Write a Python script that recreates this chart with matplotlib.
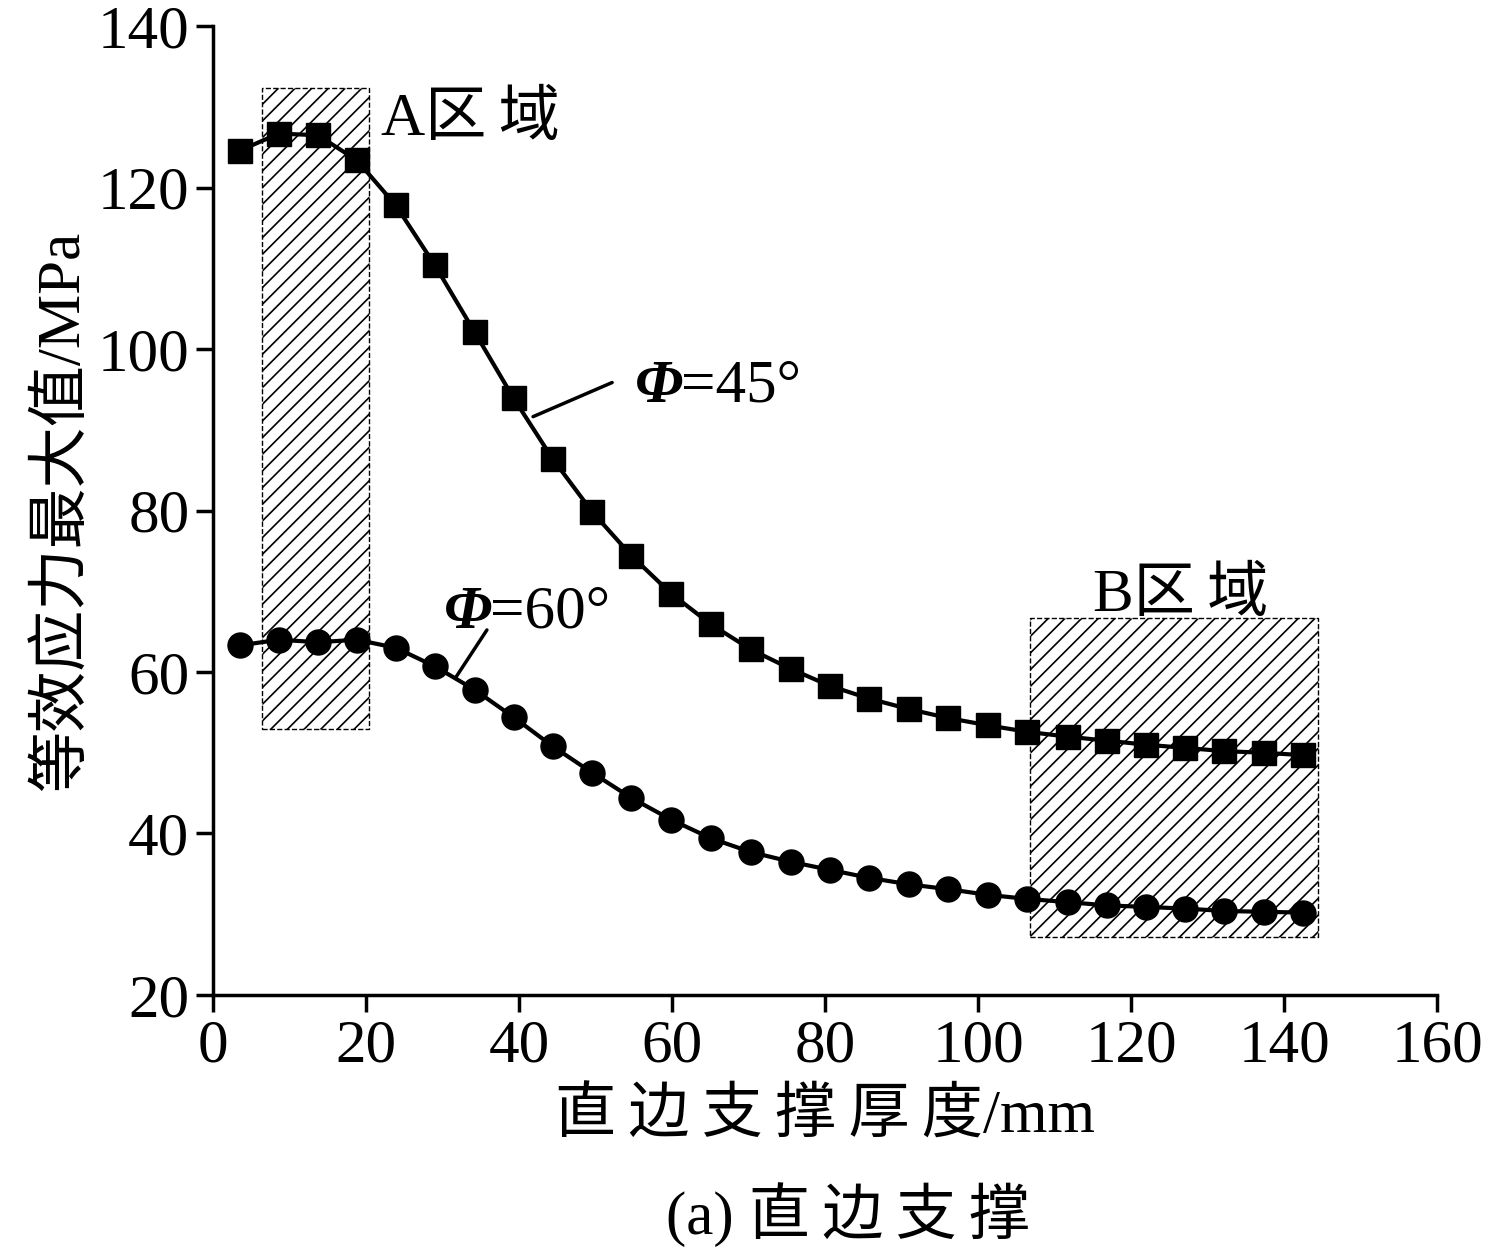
import matplotlib
matplotlib.use("Agg")
import matplotlib.pyplot as plt
from matplotlib.patches import Rectangle

x = [3.5, 8.6, 13.7, 18.8, 23.9, 29.0, 34.2, 39.3, 44.4, 49.6, 54.7, 59.9, 65.1, 70.3,
     75.5, 80.6, 85.8, 91.0, 96.1, 101.3, 106.4, 111.7, 116.8, 122.0, 127.1, 132.2, 137.4, 142.5]
phi45 = [124.6, 126.7, 126.5, 123.4, 117.8, 110.4, 102.1, 93.9, 86.4, 79.8, 74.4, 69.7, 65.9, 62.8,
         60.4, 58.3, 56.7, 55.4, 54.3, 53.4, 52.6, 52.0, 51.5, 51.0, 50.6, 50.2, 50.0, 49.7]
phi60 = [63.3, 64.0, 63.7, 64.0, 63.0, 60.7, 57.8, 54.4, 50.8, 47.5, 44.4, 41.7, 39.4, 37.7,
         36.5, 35.5, 34.5, 33.7, 33.1, 32.4, 31.9, 31.5, 31.1, 30.9, 30.7, 30.4, 30.3, 30.2]
xticks = [0, 20, 40, 60, 80, 100, 120, 140, 160]
yticks = [20, 40, 60, 80, 100, 120, 140]

plt.rcParams['font.family'] = ['Liberation Serif', 'Noto Sans CJK SC', 'Noto Sans CJK JP']
plt.rcParams['hatch.linewidth'] = 1.2

fig = plt.figure(figsize=(14.96, 12.49), dpi=100)
ax = fig.add_axes([0.1424, 0.2034, 0.8182, 0.7756])
ax.set_xlim(0, 160); ax.set_ylim(20, 140)

ax.add_patch(Rectangle((6.4, 52.9), 14.0, 79.4, fill=False, hatch='//', ls='--', lw=1, ec='black'))
ax.add_patch(Rectangle((106.8, 27.2), 37.6, 39.5, fill=False, hatch='//', ls='--', lw=1, ec='black'))

ax.plot(x, phi45, 'k-', lw=3, marker='s', ms=17, zorder=3)
ax.plot(x, phi60, 'k-', lw=3, marker='o', ms=18, zorder=3)

ax.set_xticks(xticks); ax.set_yticks(yticks)
for s in ['top', 'right']:
    ax.spines[s].set_visible(False)
for s in ['left', 'bottom']:
    ax.spines[s].set_linewidth(2.5)
ax.tick_params(direction='out', length=12, width=2.5, labelsize=44, pad=5)

ts = "\u2009"
ax.set_xlabel(ts.join("直边支撑厚度") + "/mm", fontsize=44, labelpad=10)
ax.set_ylabel("等效应力最大值/MPa", fontsize=44, labelpad=4)
fig.text(0.567, 0.012, "(a) " + ts.join("直边支撑"), fontsize=44, ha='center')

ax.text(22, 126.5, "A区" + ts + "域", fontsize=44)
ax.text(115, 67.5, "B区" + ts + "域", fontsize=44)

ax.annotate("", xy=(41.5, 91.5), xytext=(52.5, 96),
            arrowprops=dict(arrowstyle='-', lw=2.5, color='k'))
ax.text(55.2, 93.5, "Φ", fontsize=44, fontstyle='italic', fontweight='bold')
ax.text(61.2, 93.5, "=45°", fontsize=44)
ax.annotate("", xy=(31.5, 59), xytext=(36, 65.5),
            arrowprops=dict(arrowstyle='-', lw=2.5, color='k'))
ax.text(30.2, 65.5, "Φ", fontsize=44, fontstyle='italic', fontweight='bold')
ax.text(36.2, 65.5, "=60°", fontsize=44)
fig.savefig("out.png")
